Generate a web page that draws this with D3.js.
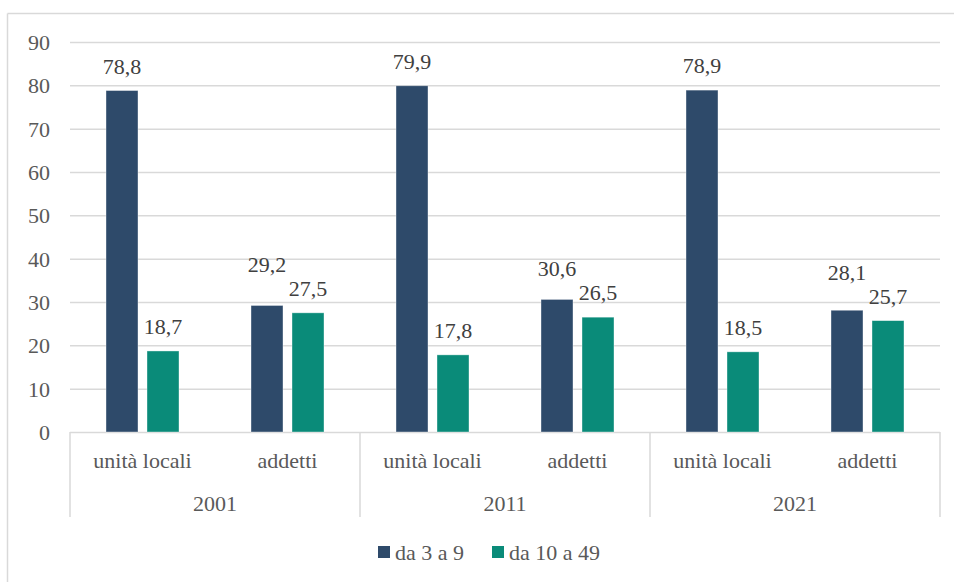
<!DOCTYPE html>
<html>
<head>
<meta charset="utf-8">
<script src="https://cdn.jsdelivr.net/npm/d3@7"></script>
<style>
  html, body { margin: 0; padding: 0; background: #fff; }
  svg { display: block; }
  svg text { font-family: "Liberation Serif", "DejaVu Serif", "Times New Roman", serif !important; }
</style>
</head>
<body>
<svg id="chart" width="954" height="582"></svg>
<script>
// Data
const years = ["2001", "2011", "2021"];
const measures = ["unità locali", "addetti"];
const seriesNames = ["da 3 a 9", "da 10 a 49"];
const da3a9 = [78.8, 29.2, 79.9, 30.6, 78.9, 28.1];
const da10a49 = [18.7, 27.5, 17.8, 26.5, 18.5, 25.7];
const yTicks = [0, 10, 20, 30, 40, 50, 60, 70, 80, 90];

const colors = ["#2e4a6a", "#0a8b79"];
const gridColor = "#d9d9d9";
const textColor = "#595959";
const labelColor = "#404040";
const fontSize = 22;
const fontFamily = "'Liberation Serif', 'DejaVu Serif', 'Times New Roman', serif";

const svg = d3.select("#chart").attr("font-family", fontFamily);
const W = 954, H = 582;
const plot = { left: 70, right: 940, top: 42, bottom: 432 };

// Outer frame (top and left edges)
svg.append("line").attr("x1", 7.5).attr("x2", W).attr("y1", 13.5).attr("y2", 13.5)
  .attr("stroke", gridColor).attr("stroke-width", 1.5);
svg.append("line").attr("x1", 7.5).attr("x2", 7.5).attr("y1", 13.5).attr("y2", H)
  .attr("stroke", gridColor).attr("stroke-width", 1.5);

// Categories: year x measure
const cats = [];
years.forEach(y => measures.forEach(m => cats.push({ year: y, measure: m, key: y + "|" + m })));
cats.forEach((c, i) => { c.values = [da3a9[i], da10a49[i]]; });

const x = d3.scaleBand().domain(cats.map(c => c.key)).range([plot.left, plot.right]).padding(0);
const xYear = d3.scaleBand().domain(years).range([plot.left, plot.right]).padding(0);
const pairWidth = 73;
const xs = d3.scaleBand().domain(seriesNames).range([-pairWidth / 2, pairWidth / 2])
  .paddingInner(9 / 41).paddingOuter(0);
const y = d3.scaleLinear().domain([0, 90]).range([plot.bottom, plot.top]);

// Gridlines
svg.append("g").selectAll("line").data(yTicks).join("line")
  .attr("x1", plot.left).attr("x2", plot.right)
  .attr("y1", d => y(d) + 0.5).attr("y2", d => y(d) + 0.5)
  .attr("stroke", gridColor).attr("stroke-width", 1.5);

// Y axis labels
const yAxis = d3.axisLeft(y).tickValues(yTicks).tickSize(0).tickPadding(20).tickFormat(d3.format("d"));
const yg = svg.append("g").attr("transform", `translate(${plot.left},0.5)`).call(yAxis)
  .attr("font-family", fontFamily).attr("font-size", fontSize);
yg.select(".domain").remove();
yg.selectAll("text").attr("fill", textColor);

// Year separators below the axis
const sepBottom = 517;
const sepXs = years.map(yr => xYear(yr)).concat([plot.right]);
svg.append("g").selectAll("line").data(sepXs).join("line")
  .attr("x1", d => d).attr("x2", d => d)
  .attr("y1", plot.bottom).attr("y2", sepBottom)
  .attr("stroke", gridColor).attr("stroke-width", 1.5);

// Bars
const bars = svg.append("g");
cats.forEach(c => {
  const cx = x(c.key) + x.bandwidth() / 2;
  seriesNames.forEach((s, si) => {
    const v = c.values[si];
    bars.append("rect")
      .attr("x", cx + xs(s))
      .attr("y", y(v))
      .attr("width", xs.bandwidth())
      .attr("height", y(0) - y(v))
      .attr("fill", colors[si])
      .attr("stroke", "#ffffff").attr("stroke-opacity", 0.5).attr("stroke-width", 0.75);
  });
});

// Value labels (comma decimal), lifted when a pair's labels would collide
const fmt = v => d3.format(".1f")(v).replace(".", ",");
const gap = 17, minSep = 24;
const labels = svg.append("g").attr("font-size", fontSize).attr("fill", labelColor).attr("text-anchor", "middle");
cats.forEach(c => {
  const cx = x(c.key) + x.bandwidth() / 2;
  const base = c.values.map(v => y(v) - gap);
  if (Math.abs(c.values[0] - c.values[1]) < 10 && base[0] > base[1] - minSep) base[0] = base[1] - minSep;
  seriesNames.forEach((s, si) => {
    labels.append("text")
      .attr("x", cx + xs(s) + xs.bandwidth() / 2)
      .attr("y", base[si])
      .text(fmt(c.values[si]));
  });
});

// Category labels
svg.append("g").attr("font-size", fontSize).attr("fill", textColor).attr("text-anchor", "middle")
  .selectAll("text").data(cats).join("text")
  .attr("x", d => x(d.key) + x.bandwidth() / 2)
  .attr("y", 468)
  .text(d => d.measure);

// Year labels
svg.append("g").attr("font-size", fontSize).attr("fill", textColor).attr("text-anchor", "middle")
  .selectAll("text").data(years).join("text")
  .attr("x", d => xYear(d) + xYear.bandwidth() / 2)
  .attr("y", 511)
  .text(d => d);

// Legend
const legend = svg.append("g").attr("font-size", fontSize).attr("fill", textColor);
const legendX = [378, 492];
seriesNames.forEach((s, i) => {
  legend.append("rect").attr("x", legendX[i]).attr("y", 546).attr("width", 12).attr("height", 12)
    .attr("fill", colors[i]);
  legend.append("text").attr("x", legendX[i] + 17).attr("y", 560).text(s);
});
</script>
</body>
</html>
